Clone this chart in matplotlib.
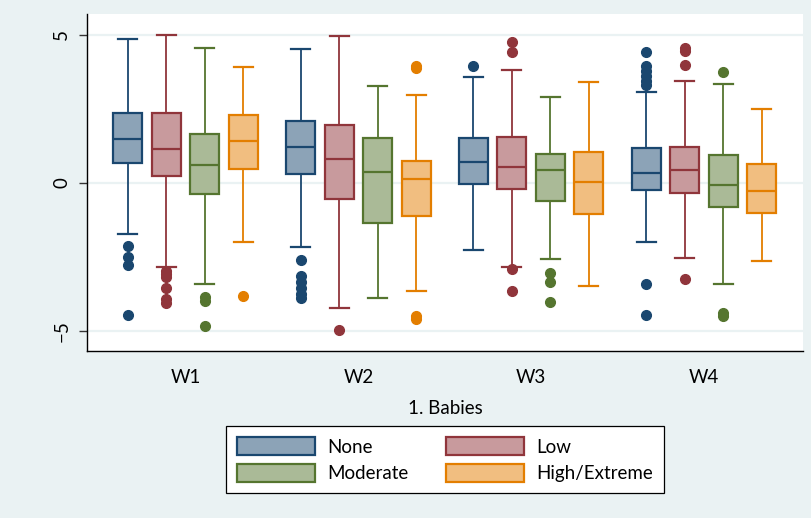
import matplotlib
matplotlib.use("Agg")
import matplotlib.pyplot as plt
from matplotlib.patches import Patch

plt.rcParams['font.family'] = ['Lato', 'DejaVu Sans']

waves = ['W1', 'W2', 'W3', 'W4']
groups = ['None', 'Low', 'Moderate', 'High/Extreme']

# box stats per group, one value per wave
none_whishi = [4.85, 4.53, 3.58, 3.07]
none_q3 = [2.35, 2.07, 1.50, 1.17]
none_med = [1.46, 1.21, 0.71, 0.31]
none_q1 = [0.68, 0.28, -0.06, -0.25]
none_whislo = [-1.72, -2.18, -2.28, -2.02]
none_fliers = [[-2.15, -2.51, -2.77, -4.46],
               [-2.61, -3.15, -3.35, -3.55, -3.75, -3.9],
               [3.95],
               [4.4, 3.93, 3.76, 3.59, 3.42, 3.3, -3.43, -4.46]]

low_whishi = [4.98, 4.97, 3.81, 3.44]
low_q3 = [2.35, 1.95, 1.53, 1.19]
low_med = [1.14, 0.79, 0.54, 0.43]
low_q1 = [0.22, -0.56, -0.22, -0.35]
low_whislo = [-2.86, -4.25, -2.85, -2.55]
low_fliers = [[-2.98, -3.08, -3.2, -3.56, -3.93, -4.08],
              [-4.98],
              [4.74, 4.4, -2.91, -3.67],
              [4.55, 4.45, 3.98, -3.27]]

mod_whishi = [4.55, 3.26, 2.89, 3.33]
mod_q3 = [1.64, 1.51, 0.97, 0.93]
mod_med = [0.58, 0.37, 0.42, -0.07]
mod_q1 = [-0.37, -1.36, -0.62, -0.82]
mod_whislo = [-3.41, -3.9, -2.58, -3.42]
mod_fliers = [[-3.88, -4.0, -4.84],
              [],
              [-3.04, -3.36, -4.04],
              [3.75, -4.42, -4.5]]

high_whishi = [3.92, 2.96, 3.40, 2.50]
high_q3 = [2.28, 0.74, 1.04, 0.64]
high_med = [1.40, 0.11, 0.02, -0.28]
high_q1 = [0.46, -1.13, -1.06, -1.02]
high_whislo = [-2.00, -3.67, -3.51, -2.64]
high_fliers = [[-3.82],
               [3.87, 3.95, -4.52, -4.6],
               [],
               []]

dark = ['#1a476f', '#90353b', '#55752f', '#e37e00']
light = ['#8ca3b7', '#c89a9d', '#aaba97', '#f1be80']

series = [
    (none_whislo, none_q1, none_med, none_q3, none_whishi, none_fliers),
    (low_whislo, low_q1, low_med, low_q3, low_whishi, low_fliers),
    (mod_whislo, mod_q1, mod_med, mod_q3, mod_whishi, mod_fliers),
    (high_whislo, high_q1, high_med, high_q3, high_whishi, high_fliers),
]

bg = '#eaf2f3'
fig = plt.figure(figsize=(8.12, 5.18), dpi=100, facecolor=bg)
ax = fig.add_axes([87 / 812, 1 - 351 / 518, 716 / 812, 337 / 518])
ax.set_facecolor('white')

offsets = [-0.334, -0.1114, 0.1114, 0.334]
for k, (lo, q1, med, q3, hi, fl) in enumerate(series):
    stats = []
    for i in range(len(waves)):
        stats.append(dict(whislo=lo[i], q1=q1[i], med=med[i], q3=q3[i],
                          whishi=hi[i], fliers=fl[i]))
    pos = [i + 1 + offsets[k] for i in range(len(waves))]
    ax.bxp(stats, positions=pos, widths=0.168, capwidths=0.11,
           patch_artist=True, manage_ticks=False,
           boxprops=dict(facecolor=light[k], edgecolor=dark[k], linewidth=1.6),
           medianprops=dict(color=dark[k], linewidth=1.6),
           whiskerprops=dict(color=dark[k], linewidth=1.3),
           capprops=dict(color=dark[k], linewidth=1.6),
           flierprops=dict(marker='o', markerfacecolor=dark[k],
                           markeredgecolor=dark[k], markersize=7))

ax.set_xlim(0.43, 4.573)
ax.set_ylim(-5.69, 5.70)
ax.set_yticks([-5, 0, 5])
ax.set_xticks([1, 2, 3, 4])
ax.set_xticklabels(waves, fontsize=13.5)
ax.tick_params(axis='x', length=0, pad=13)
ax.tick_params(axis='y', length=6, width=1, color='#333333', pad=6,
               labelsize=13.5, labelrotation=90)
for lab in ax.get_yticklabels():
    lab.set_va('center')
ax.grid(axis='y', color=bg, linewidth=1.6)
ax.set_axisbelow(True)
for s in ['top', 'right']:
    ax.spines[s].set_visible(False)
for s in ['left', 'bottom']:
    ax.spines[s].set_linewidth(1.0)
    ax.spines[s].set_color('black')

ax.set_xlabel('1. Babies', fontsize=13.5, labelpad=10)

handles = [Patch(facecolor=light[k], edgecolor=dark[k], linewidth=1.6)
           for k in range(4)]
# order for row-wise filling in 2 columns
order = [0, 2, 1, 3]
leg = fig.legend([handles[i] for i in order], [groups[i] for i in order],
                 ncol=2, loc='upper center', bbox_to_anchor=(445 / 812, 1 - 426 / 518),
                 fontsize=13.5, frameon=True, fancybox=False, edgecolor='black',
                 framealpha=1, handlelength=4.16, handleheight=1.12,
                 handletextpad=0.64, columnspacing=2.0, labelspacing=0.42,
                 borderpad=0.6, borderaxespad=0)
leg.get_frame().set_linewidth(0.9)

fig.savefig('out.png', dpi=100, facecolor=bg)
